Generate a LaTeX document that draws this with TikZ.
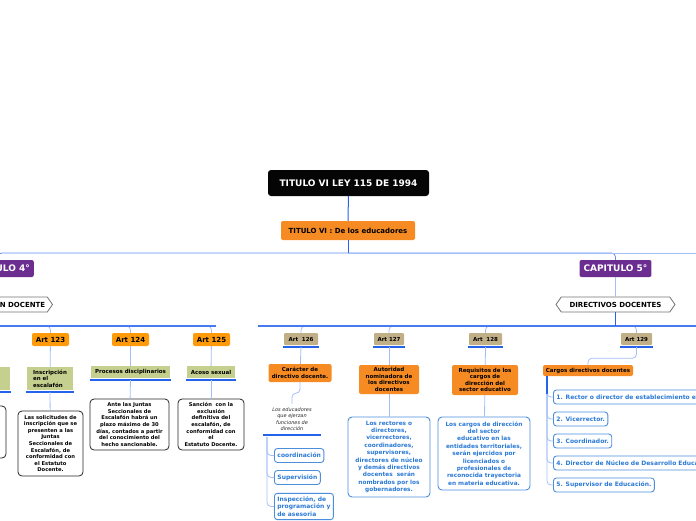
\documentclass[tikz,border=0pt]{standalone}
\usepackage{fontspec}
\setmainfont{DejaVu Sans}
\usetikzlibrary{shapes.symbols}

\definecolor{rootblack}{HTML}{050505}
\definecolor{secorange}{HTML}{F68B23}
\definecolor{artorange}{HTML}{FF9B0A}
\definecolor{chappurple}{HTML}{6B2E90}
\definecolor{topicgreen}{HTML}{C5CF8E}
\definecolor{arttan}{HTML}{C1AF88}
\definecolor{barblue}{HTML}{2563EB}
\definecolor{linkblue}{HTML}{A3BEF6}
\definecolor{midblue}{HTML}{5E8FF0}
\definecolor{itemblue}{HTML}{2B7AD6}

\tikzset{
  root/.style={fill=rootblack, text=white, rounded corners=3pt,
    font=\bfseries\fontsize{9}{10}\selectfont, minimum width=161, minimum height=26},
  section/.style={fill=secorange, rounded corners=2pt, align=center, inner sep=2,
    font=\bfseries\fontsize{5.5}{6.6}\selectfont},
  chapter/.style={fill=chappurple, text=white, rounded corners=2pt, inner xsep=4,
    font=\bfseries\fontsize{9}{10}\selectfont, minimum height=17},
  banner/.style={signal, signal to=west and east, signal pointer angle=110,
    draw=black!55, line width=0.8pt, fill=white, minimum height=15, inner xsep=2,
    font=\bfseries\fontsize{7}{8}\selectfont},
  ubar/.style={draw=barblue, line width=2pt},
  underbar/.style={append after command={
    ([xshift=-1pt,yshift=-1.5pt]\tikzlastnode.south west) edge[ubar]
    ([xshift=1pt,yshift=-1.5pt]\tikzlastnode.south east)}},
  art/.style={fill=artorange, rounded corners=2pt, inner sep=1,
    font=\bfseries\fontsize{7}{8}\selectfont, minimum width=37, minimum height=13},
  artb/.style={fill=arttan, rounded corners=1pt, inner sep=1, underbar,
    font=\bfseries\fontsize{5.5}{6.5}\selectfont, minimum height=12},
  topic/.style={fill=topicgreen, inner sep=2, underbar,
    font=\bfseries\fontsize{5.5}{6.6}\selectfont},
  note/.style={draw=black!85, line width=0.8pt, rounded corners=4pt, fill=white,
    align=center, inner sep=2, font=\bfseries\fontsize{5.2}{6.6}\selectfont},
  bluenote/.style={draw=itemblue!85, line width=0.9pt, rounded corners=4pt, fill=white,
    text=itemblue, align=center, inner sep=2, font=\bfseries\fontsize{5.8}{7.4}\selectfont},
  item/.style={draw=itemblue!85, line width=0.9pt, rounded corners=3pt, fill=white,
    text=itemblue, align=left, anchor=west, inner xsep=3, minimum height=14,
    font=\bfseries\fontsize{6}{7.4}\selectfont},
  link/.style={draw=linkblue, line width=0.8pt, rounded corners=4pt},
  spine/.style={draw=barblue, line width=1pt},
  bar/.style={draw=barblue!85, line width=1.5pt}
}

\begin{document}
\begin{tikzpicture}[x=1pt,y=-1pt]
\useasboundingbox (0,0) rectangle (696,520);
\clip (0,0) rectangle (696,520);

% title
\node[root] (root) at (348.5,183) {TITULO VI LEY 115 DE 1994};
\node[section, font=\bfseries\fontsize{7}{8}\selectfont, minimum width=134, minimum height=19]
  (educ) at (348,230.5) {TITULO VI : De los educadores};
\coordinate (hubtop) at (348,253);
\coordinate (offtop) at (700,253);
\node[chapter, anchor=east] (cap4) at (34,268.5) {CAPITULO 4°};
\node[chapter] (cap5) at (615.5,268.5) {CAPITULO 5°};
\draw[spine] (root) -- (educ);
\draw[spine] (educ) -- (hubtop);
\draw[link, draw=midblue] (hubtop) -| (cap4.north);
\draw[link, draw=midblue] (hubtop) -| (cap5.north);
\draw[link] (hubtop) -- (offtop);

% chapters
\node[banner, anchor=east] (escdoc) at (53,304.5) {ESCALAFÓN DOCENTE};
\node[banner, minimum width=119] (dirdoc) at (615.5,304.5) {DIRECTIVOS DOCENTES};
\draw[link] (cap4.south west) -- (escdoc.north west);
\draw[link] (cap5) -- (dirdoc);
\coordinate (rowart) at (0,326);
\coordinate (hubesc) at (escdoc.south west |- rowart);
\coordinate (hubdir) at (dirdoc.south |- rowart);
\coordinate (escL) at (-15,326);
\coordinate (escR) at (216,326);
\coordinate (dirL) at (258,326);
\coordinate (dirR) at (700,326);

% articles
\node[art] (a123) at (50.5,339.5) {Art 123};
\node[art] (a124) at (130.5,339.5) {Art 124};
\node[art] (a125) at (211.5,339.5) {Art 125};
\node[artb, minimum width=34] (a126) at (301,339) {Art\ \ 126};
\node[artb, minimum width=30] (a127) at (389,339) {Art 127};
\node[artb, minimum width=33] (a128) at (485.5,339) {Art\ \ 128};
\node[artb, minimum width=31] (a129) at (636.5,339) {Art 129};
\foreach \a in {a123,a124,a125} \draw[link] (hubesc) -| (\a.north);
\foreach \a in {a126,a127,a128,a129} \draw[link] (hubdir) -| (\a.north);
\draw[bar] (escL) -- (escR);
\draw[bar] (dirL) -- (dirR);
\draw[spine, line width=1.3pt] (escdoc.south west) -- (hubesc);
\draw[spine, line width=1.3pt] (dirdoc.south) -- (hubdir);

% capitulo 4
\draw[fill=topicgreen, draw=none] (-40,367) rectangle (10,390);
\draw[ubar] (-41,392) -- (11,392);
\draw[draw=black!85, line width=0.8pt, rounded corners=4pt] (-40,406) rectangle (6,458);
\node[topic, align=left, minimum width=46, minimum height=23] (t123) at (50,378.5)
  {Inscripción\\en el\\escalafón};
\node[topic, minimum width=79, minimum height=12] (t124) at (130.5,372) {Procesos disciplinarios};
\node[topic, minimum width=48, minimum height=12] (t125) at (211,372) {Acoso sexual};
\node[note, minimum width=65, minimum height=65] (n123) at (50.5,443.5)
  {Las solicitudes de\\inscripción que se\\presenten a las\\Juntas\\Seccionales de\\Escalafón, de\\conformidad con\\el Estatuto\\Docente.};
\node[note, minimum width=79, minimum height=51] (n124) at (129.5,424.5)
  {Ante las Juntas\\Seccionales de\\Escalafón habrá un\\plazo máximo de 30\\días, contados a partir\\del conocimiento del\\hecho sancionable.};
\node[note, minimum width=66, minimum height=51] (n125) at (211,424.5)
  {Sanción\ \ con la\\exclusión\\definitiva del\\escalafón, de\\conformidad con\\el\\Estatuto Docente.};
\foreach \i in {123,124,125} {
  \draw[link] (a\i) -- (t\i);
  \draw[link] (t\i.south) ++(0,2) -- (n\i);
}

% capitulo 5
\node[section, minimum width=63, minimum height=18] (car) at (300,373)
  {Carácter de\\directivo docente.};
\node[section, minimum width=60, minimum height=29] (aut) at (389,379.5)
  {Autoridad\\nominadora de\\los directivos\\docentes};
\node[section, minimum width=66, minimum height=30] (req) at (485,380)
  {Requisitos de los\\cargos de\\dirección del\\sector educativo};
\node[section, minimum width=90, minimum height=11, inner sep=1] (cargos) at (588,370.5)
  {Cargos directivos docentes};
\draw[link] (a126.south) ++(0,2) -- (car);
\draw[link] (a127.south) ++(0,2) -- (aut);
\draw[link] (a128.south) ++(0,2) -- (req);
\draw[link] (a129.south) ++(0,2) -- ++(0,11) -| (cargos.north);

\node[underbar, align=center, inner xsep=0, inner ysep=3, minimum width=56, text=black!85,
  font=\itshape\fontsize{5}{6.5}\selectfont] (lead) at (292,419)
  {Los educadores\\que ejerzan\\funciones de\\dirección};
\draw[link] (car.south) -- ++(0,11) -| (lead.north);
\coordinate (leadroot) at (267,437);
\node[item] (coord) at (274,455.5) {coordinación};
\node[item] (superv) at (274,477.5) {Supervisión};
\node[item] (insp) at (274,506.5) {Inspección, de\\programación y\\de asesoria};
\foreach \b in {coord,superv,insp} \draw[link] (leadroot) |- (\b.west);

\node[bluenote, minimum width=82, minimum height=80] (n127) at (389,457)
  {Los rectores o\\directores,\\vicerrectores,\\coordinadores,\\supervisores,\\directores de núcleo\\y demás directivos\\docentes\ \ serán\\nombrados por los\\gobernadores.};
\node[bluenote, minimum width=92, minimum height=73] (n128) at (484,453.5)
  {Los cargos de dirección\\del sector\\educativo en las\\entidades territoriales,\\serán ejercidos por\\licenciados o\\profesionales de\\reconocida trayectoria\\en materia educativa.};
\draw[link] (aut) -- (n127);
\draw[link] (req) -- (n128);

\coordinate (cargroot) at (547,376);
\foreach \n/\y/\t in {1/397/{1. Rector o director de establecimiento educativo.},
    2/419/{2. Vicerrector.}, 3/441/{3. Coordinador.},
    4/463/{4. Director de Núcleo de Desarrollo Educativo.},
    5/485/{5. Supervisor de Educación.}} {
  \node[item] (r\n) at (553,\y) {\t};
  \draw[link] (cargroot) |- (r\n.west);
}
\draw[ubar] (cargroot) -- ++(0,18);
\end{tikzpicture}
\end{document}
